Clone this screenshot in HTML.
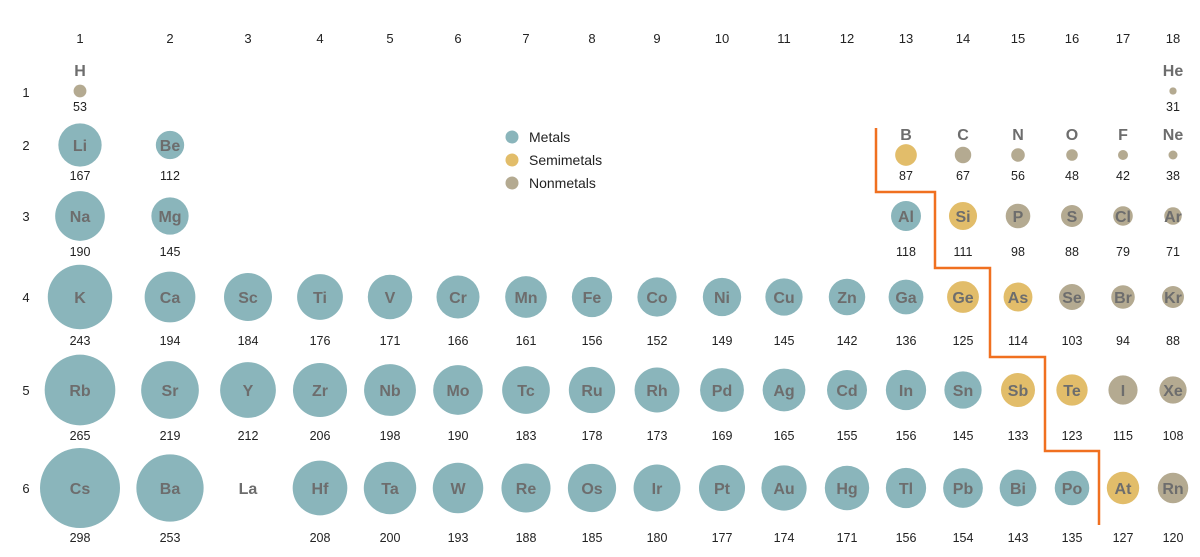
<!DOCTYPE html>
<html><head><meta charset="utf-8"><style>
html,body{margin:0;background:#fff;overflow:hidden}
svg{display:block}
svg text{font-family:"Liberation Sans",sans-serif}
</style></head><body>
<svg id="chart" width="1200" height="557" viewBox="0 0 1200 557" xmlns="http://www.w3.org/2000/svg"></svg>
<script>
const colX=[80,170,248,320,390,458,526,592,657,722,784,847,906,963,1018,1072,1123,1173];
const rowY=[92,145,216,297,390,488];
const valY=[107,176,252,341,436,538];
const symbols=[
["H","","","","","","","","","","","","","","","","","He"],
["Li","Be","","","","","","","","","","","B","C","N","O","F","Ne"],
["Na","Mg","","","","","","","","","","","Al","Si","P","S","Cl","Ar"],
["K","Ca","Sc","Ti","V","Cr","Mn","Fe","Co","Ni","Cu","Zn","Ga","Ge","As","Se","Br","Kr"],
["Rb","Sr","Y","Zr","Nb","Mo","Tc","Ru","Rh","Pd","Ag","Cd","In","Sn","Sb","Te","I","Xe"],
["Cs","Ba","La","Hf","Ta","W","Re","Os","Ir","Pt","Au","Hg","Tl","Pb","Bi","Po","At","Rn"]];
const radii=[
[53,0,0,0,0,0,0,0,0,0,0,0,0,0,0,0,0,31],
[167,112,0,0,0,0,0,0,0,0,0,0,87,67,56,48,42,38],
[190,145,0,0,0,0,0,0,0,0,0,0,118,111,98,88,79,71],
[243,194,184,176,171,166,161,156,152,149,145,142,136,125,114,103,94,88],
[265,219,212,206,198,190,183,178,173,169,165,155,156,145,133,123,115,108],
[298,253,0,208,200,193,188,185,180,177,174,171,156,154,143,135,127,120]];
// m=metal s=semimetal n=nonmetal
const types=[
"n................n",
"mm..........snnnnn",
"mm..........msnnnn",
"mmmmmmmmmmmmmssnnn",
"mmmmmmmmmmmmmmssnn",
"mmmmmmmmmmmmmmmmsn"];
const colors={m:"#8ab5bb",s:"#e2bd6a",n:"#b4aa91"};
const svg=document.getElementById('chart');
const NS="http://www.w3.org/2000/svg";
function el(t,a){const e=document.createElementNS(NS,t);for(const k in a)e.setAttribute(k,a[k]);svg.appendChild(e);return e;}
function rScale(v){return 40*Math.pow(v/298,1.06);}
colX.forEach((x,i)=>{const t=el('text',{x:x,y:43,'text-anchor':'middle','font-size':13,fill:'#222'});t.textContent=i+1;

});
rowY.forEach((y,i)=>{const t=el('text',{x:26,y:y+5,'text-anchor':'middle','font-size':13,fill:'#222'});t.textContent=i+1;

});
const line=el('polyline',{points:"876,128 876,192 935,192 935,268 990,268 990,357 1045,357 1045,451 1099,451 1099,525",fill:'none',stroke:'#f07020','stroke-width':2.5});


for(let r=0;r<6;r++)for(let c=0;c<18;c++){
 const s=symbols[r][c];if(!s)continue;
 const v=radii[r][c];const x=colX[c];
 if(!v){const t=el('text',{x:x,y:rowY[r]+6,'text-anchor':'middle','font-size':16,'font-weight':'bold',fill:'#6d6d6d'});t.textContent=s;
  
  continue;}
 const above=r<=1&&v<100;
 const cy=above?(r===0?91:155):rowY[r];
 const circ=el('circle',{cx:x,cy:cy,r:rScale(v),fill:colors[types[r][c]]});
 
 
 const t=el('text',{x:x,y:above?cy-15:cy+6,'text-anchor':'middle','font-size':16,'font-weight':'bold',fill:'#6d6d6d'});t.textContent=s;
 
 
 const vt=el('text',{x:x,y:valY[r]+4,'text-anchor':'middle','font-size':12.5,fill:'#222'});vt.textContent=v;
 
 
}
const legend=[["Metals","m"],["Semimetals","s"],["Nonmetals","n"]];
legend.forEach((l,i)=>{const y=137+i*23;
 const c=el('circle',{cx:512,cy:y,r:6.5,fill:colors[l[1]]});
 
 
 const t=el('text',{x:529,y:y+5,'font-size':14,fill:'#222'});t.textContent=l[0];
 
 });
</script>
</body></html>
